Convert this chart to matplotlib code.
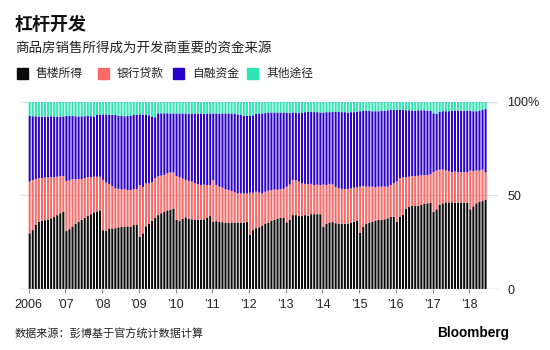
import matplotlib
matplotlib.use('Agg')
import matplotlib.pyplot as plt
from matplotlib.patches import Rectangle
import numpy as np

plt.rcParams['font.family'] = ['Liberation Sans', 'Noto Sans CJK SC', 'DejaVu Sans']

# monthly shares (%), Jan 2006 - Jun 2018
sales = [
    29.8, 31.5, 34.5, 36.0, 36.5, 36.8, 37.2, 37.8, 38.5, 39.5, 40.5, 41.3,
    31.0, 32.0, 33.5, 35.0, 36.0, 37.0, 38.0, 39.0, 40.0, 41.0, 41.5, 42.0,
    31.5, 31.0, 32.4, 32.4, 32.5, 33.0, 33.3, 33.3, 33.5, 33.3, 34.2, 34.5,
    28.0, 29.8, 33.5, 35.0, 36.5, 38.0, 39.5, 40.5, 41.2, 42.0, 42.5, 43.0,
    37.0, 36.5, 37.5, 38.3, 37.5, 37.3, 37.0, 37.0, 37.0, 37.2, 38.0, 39.0,
    36.0, 36.3, 36.0, 35.7, 35.5, 35.5, 35.5, 35.5, 35.5, 35.5, 35.5, 36.0,
    29.0, 31.5, 32.5, 33.0, 34.0, 35.0, 35.5, 36.5, 37.0, 37.5, 38.0, 38.0,
    35.6, 37.0, 39.5, 39.5, 39.0, 39.0, 39.5, 39.2, 40.0, 40.0, 40.0, 40.0,
    33.3, 35.0, 35.6, 35.8, 35.2, 35.0, 35.0, 34.8, 35.0, 35.5, 36.0, 36.5,
    30.0, 33.3, 35.0, 35.5, 36.0, 36.5, 37.0, 37.0, 37.3, 37.8, 38.6, 38.6,
    36.0, 38.6, 39.6, 43.0, 44.0, 44.4, 44.4, 44.6, 44.9, 45.5, 45.8, 46.0,
    41.3, 42.6, 45.0, 45.8, 46.3, 46.3, 46.3, 46.1, 46.1, 46.1, 46.1, 46.1,
    42.6, 44.2, 45.8, 46.7, 47.0, 47.6,
]
loans = [
    27.6, 26.8, 24.3, 23.3, 22.8, 22.8, 22.4, 22.0, 21.3, 20.5, 19.7, 19.1,
    26.7, 26.0, 25.3, 23.5, 22.8, 21.8, 21.3, 20.8, 19.8, 19.0, 18.5, 18.0,
    26.8, 25.9, 23.6, 22.6, 21.3, 20.5, 20.0, 20.0, 19.4, 19.6, 19.1, 19.0,
    27.6, 24.7, 23.0, 21.5, 20.5, 21.3, 20.7, 20.1, 19.8, 19.9, 19.7, 19.2,
    23.4, 23.2, 21.5, 20.0, 20.3, 20.1, 19.5, 19.0, 18.6, 18.6, 17.6, 16.6,
    22.3, 19.3, 18.7, 18.5, 17.8, 17.4, 16.9, 16.1, 15.6, 15.6, 15.6, 15.1,
    22.5, 20.0, 19.5, 18.5, 17.1, 17.0, 17.0, 16.4, 16.1, 15.6, 15.3, 15.5,
    19.1, 18.9, 18.8, 18.5, 18.4, 17.5, 16.7, 16.8, 16.2, 15.6, 15.8, 15.6,
    22.5, 20.6, 20.6, 20.1, 19.4, 18.8, 18.5, 18.5, 18.5, 18.3, 18.2, 17.9,
    24.7, 21.7, 19.7, 19.2, 18.7, 17.9, 17.7, 17.7, 17.4, 16.9, 17.0, 17.9,
    21.4, 20.7, 20.2, 16.8, 16.0, 16.0, 16.0, 15.9, 15.9, 15.3, 15.0, 15.3,
    21.1, 20.7, 18.8, 18.0, 17.0, 16.7, 16.1, 16.7, 16.3, 16.3, 16.3, 16.3,
    20.7, 18.8, 17.5, 16.6, 16.8, 14.8,
]
self_raised = [
    35.1, 34.0, 33.5, 32.9, 32.7, 32.4, 32.6, 32.5, 32.4, 32.0, 31.8, 31.8,
    34.8, 34.5, 33.7, 33.8, 33.4, 33.5, 33.0, 32.7, 32.5, 32.2, 33.0, 33.2,
    35.0, 36.4, 37.2, 38.0, 39.2, 39.0, 39.2, 39.0, 39.6, 39.6, 39.7, 39.5,
    37.7, 38.7, 36.5, 36.3, 35.2, 32.5, 33.7, 33.3, 32.9, 32.0, 31.6, 31.6,
    33.4, 34.1, 34.8, 35.5, 35.7, 36.4, 37.3, 37.8, 38.2, 37.7, 37.9, 38.2,
    35.5, 38.2, 38.9, 39.6, 40.5, 40.9, 41.4, 41.9, 42.2, 41.9, 41.4, 41.4,
    41.0, 41.3, 41.5, 42.3, 42.7, 42.0, 41.8, 41.4, 41.2, 41.2, 41.0, 40.8,
    39.6, 38.1, 36.0, 36.3, 36.6, 37.8, 38.3, 38.8, 38.6, 38.9, 38.7, 38.7,
    38.5, 38.9, 38.3, 38.9, 40.2, 41.0, 41.0, 41.2, 40.8, 40.7, 40.3, 40.4,
    40.3, 40.3, 40.6, 40.6, 40.3, 40.6, 40.3, 40.6, 40.6, 40.8, 40.1, 39.2,
    38.3, 36.4, 35.9, 35.7, 35.5, 34.9, 34.9, 35.0, 34.7, 34.7, 34.5, 34.0,
    31.5, 30.3, 31.0, 31.2, 31.7, 32.0, 32.8, 32.5, 32.9, 32.9, 32.9, 32.9,
    32.0, 32.0, 31.7, 32.0, 31.9, 33.7,
]
other = [
    7.5, 7.7, 7.7, 7.8, 8.0, 8.0, 7.8, 7.7, 7.8, 8.0, 8.0, 7.8,
    7.5, 7.5, 7.5, 7.7, 7.8, 7.7, 7.7, 7.5, 7.7, 7.8, 7.0, 6.8,
    6.7, 6.7, 6.8, 7.0, 7.0, 7.5, 7.5, 7.7, 7.5, 7.5, 7.0, 7.0,
    6.7, 6.8, 7.0, 7.2, 7.8, 8.2, 6.1, 6.1, 6.1, 6.1, 6.2, 6.2,
    6.2, 6.2, 6.2, 6.2, 6.5, 6.2, 6.2, 6.2, 6.2, 6.5, 6.5, 6.2,
    6.2, 6.2, 6.4, 6.2, 6.2, 6.2, 6.2, 6.5, 6.7, 7.0, 7.5, 7.5,
    7.5, 7.2, 6.5, 6.2, 6.2, 6.0, 5.7, 5.7, 5.7, 5.7, 5.7, 5.7,
    5.7, 6.0, 5.7, 5.7, 6.0, 5.7, 5.5, 5.2, 5.2, 5.5, 5.5, 5.7,
    5.7, 5.5, 5.5, 5.2, 5.2, 5.2, 5.5, 5.5, 5.7, 5.5, 5.5, 5.2,
    5.0, 4.7, 4.7, 4.7, 5.0, 5.0, 5.0, 4.7, 4.7, 4.5, 4.3, 4.3,
    4.3, 4.3, 4.3, 4.5, 4.5, 4.7, 4.7, 4.5, 4.5, 4.5, 4.7, 4.7,
    6.1, 6.4, 5.2, 5.0, 5.0, 5.0, 4.8, 4.7, 4.7, 4.7, 4.7, 4.7,
    4.7, 5.0, 5.0, 4.7, 4.3, 3.9,
]

series_names = ['售楼所得', '银行贷款', '自融资金', '其他途径']
colors = ['#0a0a0a', '#f86a68', '#2a00cc', '#30e4b4']
year_labels = ['2006', '’07', '’08', '’09', '’10', '’11', '’12',
               '’13', '’14', '’15', '’16', '’17', '’18']

fig = plt.figure(figsize=(5.5, 3.5), dpi=100)
ax = fig.add_axes([0.036, 0.174, 0.869, 0.535])

x = np.arange(len(sales))
bottom = np.zeros(len(sales))
for vals, c in zip([sales, loans, self_raised, other], colors):
    bars = ax.bar(x, vals, width=0.66, bottom=bottom, color=c, align='edge',
                  linewidth=0, zorder=2)
    for b in bars:
        b.set_snap(False)
    bottom += np.array(vals)

ax.set_xlim(-2.9, 153.3)
ax.set_ylim(0, 100)

for y in [50, 100]:
    ax.axhline(y, color='#dddddd', lw=0.8, zorder=1)
ax.axhline(0, color='#888888', lw=0.9, zorder=3)

for s in ax.spines.values():
    s.set_visible(False)

ax.set_xticks(np.arange(0, 12 * len(year_labels), 12))
ax.set_xticklabels(year_labels, fontsize=9, color='#222222')
ax.tick_params(axis='x', length=3, width=0.8, color='#888888', pad=4)

ax.yaxis.tick_right()
ax.set_yticks([0, 50, 100])
ax.set_yticklabels(['0', '50', '100%'], fontsize=9, color='#222222')
ax.tick_params(axis='y', length=0, pad=7)

# header
fig.text(0.027, 0.928, '杠杆开发', fontsize=13, fontweight='bold',
         va='center', ha='left', color='#111111')
fig.text(0.027, 0.862, '商品房销售所得成为开发商重要的资金来源', fontsize=9.7,
         va='center', ha='left', color='#222222')

# legend row
legend_x = [17, 98, 173, 247]
for lx, name, c in zip(legend_x, series_names, colors):
    fig.patches.append(Rectangle((lx / 550, 1 - 79 / 350), 11 / 550, 11 / 350,
                                 transform=fig.transFigure, color=c))
    fig.text((lx + 19) / 550, 1 - 73.5 / 350, name, fontsize=8.5,
             va='center', ha='left', color='#222222')

# footer
fig.text(0.027, 1 - 334 / 350, '数据来源：彭博基于官方统计数据计算', fontsize=8,
         va='center', ha='left', color='#222222')
fig.text(509 / 550, 1 - 333 / 350, 'Bloomberg', fontsize=9.8, fontweight='bold',
         va='center', ha='right', color='#000000')

fig.savefig('out.png', dpi=100)
